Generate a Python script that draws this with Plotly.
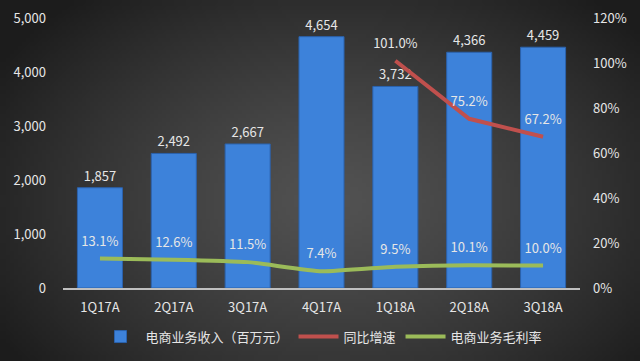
import base64, struct, zlib
import numpy as np
import plotly.graph_objects as go

categories = ["1Q17A", "2Q17A", "3Q17A", "4Q17A", "1Q18A", "2Q18A", "3Q18A"]
revenue = [1857, 2492, 2667, 4654, 3732, 4366, 4459]
growth_cats = ["1Q18A", "2Q18A", "3Q18A"]
growth = [101.0, 75.2, 67.2]
margin = [13.1, 12.6, 11.5, 7.4, 9.5, 10.1, 10.0]

name_rev = "电商业务收入（百万元）"
name_growth = "同比增速"
name_margin = "电商业务毛利率"


def gradient_png(w=160, h=90):
    yy, xx = np.mgrid[0:h, 0:w]
    cx, cy = w * 0.52, h * 0.55
    d = np.sqrt(((xx - cx) / (w * 0.62)) ** 2 + ((yy - cy) / (h * 0.75)) ** 2)
    d = np.clip(d, 0, 1)
    v = (82 - (82 - 28) * d ** 1.3).astype(np.uint8)
    rows = b"".join(b"\x00" + bytes(np.stack([v[r], v[r], v[r]], axis=1).flatten()) for r in range(h))

    def chunk(t, data):
        c = struct.pack(">I", len(data)) + t + data
        return c + struct.pack(">I", zlib.crc32(t + data) & 0xFFFFFFFF)

    png = b"\x89PNG\r\n\x1a\n" + chunk(b"IHDR", struct.pack(">IIBBBBB", w, h, 8, 2, 0, 0, 0))
    png += chunk(b"IDAT", zlib.compress(rows)) + chunk(b"IEND", b"")
    return "data:image/png;base64," + base64.b64encode(png).decode()


font_family = "Noto Sans CJK SC, Noto Sans, sans-serif"
txt_color = "#e6e6e6"
ghost_marker = dict(size=14, color="rgba(0,0,0,0)", line=dict(width=0))

fig = go.Figure()
fig.add_trace(go.Bar(
    x=categories, y=revenue, name=name_rev,
    marker=dict(color="#3d82da", line=dict(color="#2b62ad", width=1)),
    text=[f"{v:,}" for v in revenue], textposition="outside",
    textfont=dict(color=txt_color, size=13, family=font_family),
    cliponaxis=False,
))
fig.add_trace(go.Scatter(
    x=growth_cats, y=growth, name=name_growth, yaxis="y2",
    mode="lines+markers+text", line=dict(color="#c0504d", width=4),
    marker=ghost_marker,
    text=[f"{v:.1f}%" for v in growth],
    textposition="top center", cliponaxis=False,
    textfont=dict(color=txt_color, size=13, family=font_family),
))
fig.add_trace(go.Scatter(
    x=categories, y=margin, name=name_margin, yaxis="y2",
    mode="lines+markers+text", line=dict(color="#9bbb59", width=4, shape="spline", smoothing=0.4),
    marker=ghost_marker,
    text=[f"{v:.1f}%" for v in margin],
    textposition="top center", cliponaxis=False,
    textfont=dict(color=txt_color, size=13, family=font_family),
))

fig.update_layout(
    width=640, height=361,
    margin=dict(l=63, r=60, t=18, b=73, autoexpand=False),
    paper_bgcolor="#2a2a2a", plot_bgcolor="rgba(0,0,0,0)",
    font=dict(family=font_family, color=txt_color, size=13),
    bargap=0.39,
    showlegend=True,
    legend=dict(orientation="h", x=0.5, xanchor="center", y=-0.18, yanchor="middle",
                font=dict(size=13, color=txt_color), bgcolor="rgba(0,0,0,0)",
                traceorder="normal", itemwidth=40),
    xaxis=dict(showgrid=False, showline=True, linecolor="#bfbfbf", linewidth=2,
               ticks="", tickfont=dict(size=13, color=txt_color), zeroline=False,
               ticklabelstandoff=6),
    yaxis=dict(range=[0, 5000], dtick=1000, tickformat=",", showgrid=False,
               zeroline=False, showline=False, tickfont=dict(size=13, color=txt_color),
               ticklabelstandoff=16),
    yaxis2=dict(range=[0, 120], dtick=20, ticksuffix="%", overlaying="y", side="right",
                showgrid=False, zeroline=False, showline=False,
                tickfont=dict(size=13, color=txt_color), ticklabelstandoff=12),
    images=[dict(source=gradient_png(), xref="paper", yref="paper",
                 x=-63 / 517, y=1 + 18 / 270, sizex=640 / 517, sizey=361 / 270,
                 sizing="stretch", layer="below", xanchor="left", yanchor="top")],
)

fig.write_html("out.html", config={"displayModeBar": False},
               post_script="document.body.style.margin='0';document.body.style.overflow='hidden';")
